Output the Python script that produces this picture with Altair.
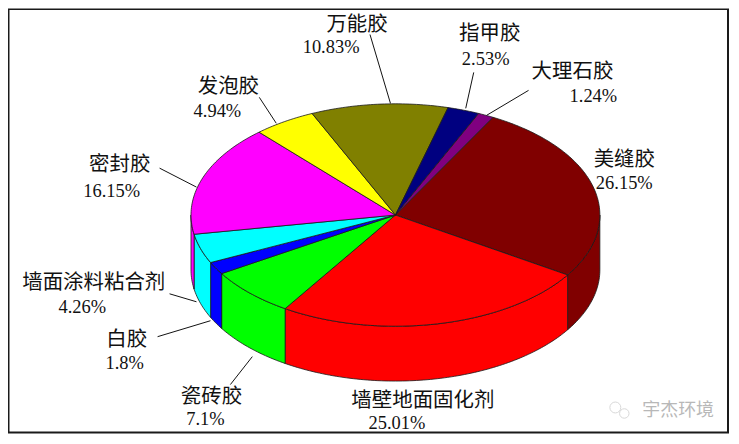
import math
import altair as alt

names = ["美缝胶", "墙壁地面固化剂", "瓷砖胶", "白胶", "墙面涂料粘合剂", "密封胶", "发泡胶", "万能胶", "指甲胶", "大理石胶"]
shares = [26.15, 25.01, 7.1, 1.8, 4.26, 16.15, 4.94, 10.83, 2.53, 1.24]
pct_text = ["26.15%", "25.01%", "7.1%", "1.8%", "4.26%", "16.15%", "4.94%", "10.83%", "2.53%", "1.24%"]
colors = ["#800000", "#ff0000", "#00ff00", "#0000ff", "#00ffff", "#ff00ff", "#ffff00", "#808000", "#000080", "#800080"]

# layout (screen pixels of the picture; the page margin is subtracted below)
M = 8
CX, CY, RX, RY, DEPTH = 396.5, 215, 205, 111.5, 55
START = -61.5
name_pos = [(626, 159.5), (424, 401.5), (212, 398), (127, 340), (94, 283.5), (120, 164.5), (229, 86.5), (358, 24), (491, 33.5), (574, 71.5)]
pct_pos = [(626, 183), (398, 424), (206, 420), (125, 363.5), (82.5, 307), (112, 191), (218, 111), (332, 47), (487, 59), (595, 96)]
leaders = [
    (371, 34, 391.5, 103), (475, 72, 467, 108), (530, 90, 488, 115), (260, 97, 277, 123),
    (160, 168, 197, 187), (170, 294, 197, 302), (158, 337, 211, 321), (231, 385, 253, 357),
]


def pt(deg, drop=0):
    a = math.radians(deg)
    return [CX + RX * math.cos(a) - M, CY + RY * math.sin(a) + drop - M]


def arc(a0, a1, drop=0):
    n = max(2, int(abs(a1 - a0)) + 2)
    return [pt(a0 + (a1 - a0) * i / (n - 1), drop) for i in range(n)]


def feature(ring, color):
    return {
        "type": "Feature",
        "properties": {"color": color},
        "geometry": {"type": "Polygon", "coordinates": [ring + [ring[0]]]},
    }


total = sum(shares)
edges = [START]
for s in shares:
    edges.append(edges[-1] + s / total * 360)

walls, tops = [], []
for i, c in enumerate(colors):
    a0, a1 = edges[i], edges[i + 1]
    for lo, hi in ((0, 180), (360, 540)):
        v0, v1 = max(a0, lo), min(a1, hi)
        if v1 > v0:
            walls.append(feature(arc(v0, v1) + arc(v1, v0, DEPTH), c))
    tops.append(feature([[CX - M, CY - M]] + arc(a0, a1), c))

W, H = 725, 427
frame = [{
    "type": "Feature",
    "properties": {"color": "#ffffff"},
    "geometry": {"type": "Polygon", "coordinates": [[[0.5, 0.5], [W - 3, 0.5], [W - 3, H - 2], [0.5, H - 2], [0.5, 0.5]]]},
}]


def shapes(feats, **kw):
    return (
        alt.Chart(alt.Data(values=feats))
        .mark_geoshape(**kw)
        .encode(fill=alt.Fill("properties.color:N", scale=None))
        .project(type="identity", scale=1, translate=[0, 0])
    )


frame_l = shapes(frame, stroke="#1a1a1a", strokeWidth=2)
walls_l = shapes(walls, stroke="#1a1a1a", strokeWidth=0.8)
tops_l = shapes(tops, stroke="#1a1a1a", strokeWidth=0.8)

lead_rows = [{"x": a - M, "y": b - M, "x2": c - M, "y2": d - M} for a, b, c, d in leaders]
lead_l = alt.Chart(alt.Data(values=lead_rows)).mark_rule(color="#111111", strokeWidth=1).encode(
    x=alt.X("x:Q", scale=None, axis=None),
    y=alt.Y("y:Q", scale=None, axis=None),
    x2="x2:Q",
    y2="y2:Q",
)

name_rows = [{"t": n, "x": p[0] - M, "y": p[1] - M} for n, p in zip(names, name_pos)]
pct_rows = [{"t": n, "x": p[0] - M, "y": p[1] - M} for n, p in zip(pct_text, pct_pos)]


def texts(rows, font, size, color="#111111"):
    return alt.Chart(alt.Data(values=rows)).mark_text(
        font=font, fontSize=size, color=color, align="center", baseline="middle"
    ).encode(
        x=alt.X("x:Q", scale=None, axis=None),
        y=alt.Y("y:Q", scale=None, axis=None),
        text="t:N",
    )


name_l = texts(name_rows, "Noto Sans CJK SC", 20.5)
pct_l = texts(pct_rows, "Liberation Serif", 18.5)
mark_l = texts([{"t": "宇杰环境", "x": 680 - M, "y": 412 - M}], "Noto Sans CJK SC", 18, "#b8b8b8")
icon_rows = [{"x": 617 - M, "y": 408 - M, "s": 120}, {"x": 626 - M, "y": 414 - M, "s": 90}]
icon_l = alt.Chart(alt.Data(values=icon_rows)).mark_point(
    shape="circle", filled=False, color="#c8c8c8", strokeWidth=1
).encode(
    x=alt.X("x:Q", scale=None, axis=None),
    y=alt.Y("y:Q", scale=None, axis=None),
    size=alt.Size("s:Q", scale=None, legend=None),
)

chart = alt.layer(frame_l, walls_l, tops_l, lead_l, name_l, pct_l, icon_l, mark_l).properties(
    width=W, height=H, padding=0, autosize=alt.AutoSizeParams(type="none"),
    background="#ffffff",
).configure_view(stroke=None)

chart.save("out.html", embed_options={"renderer": "svg", "actions": False})
